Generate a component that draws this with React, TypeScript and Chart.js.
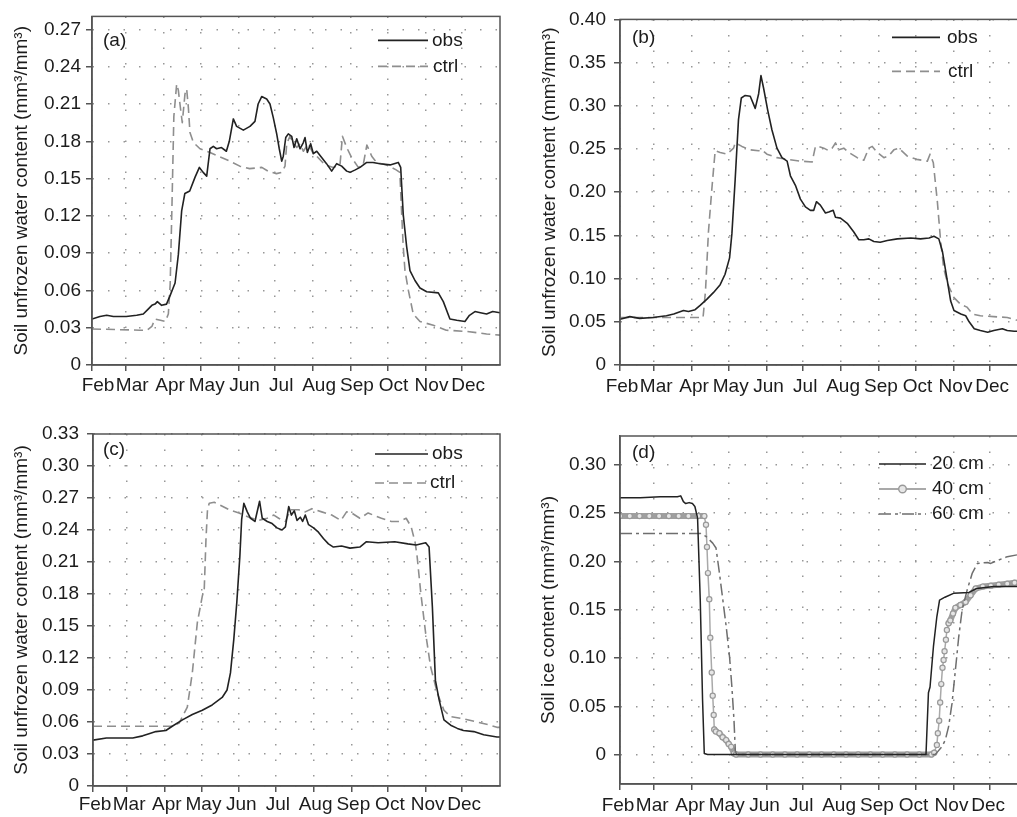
import React, { useEffect, useRef } from 'react';
import { Chart, registerables } from 'chart.js';

Chart.register(...registerables);

// ---------- shared axis data ----------
const MONTHS = ['Feb', 'Mar', 'Apr', 'May', 'Jun', 'Jul', 'Aug', 'Sep', 'Oct', 'Nov', 'Dec'];
const MONTH_DAYS = [0, 28, 59, 89, 120, 150, 181, 212, 242, 273, 303];
const X_MAX = 334;

const Y_TICKS_A = [0, 0.03, 0.06, 0.09, 0.12, 0.15, 0.18, 0.21, 0.24, 0.27];
const Y_TICKS_B = [0, 0.05, 0.1, 0.15, 0.2, 0.25, 0.3, 0.35, 0.4];
const Y_TICKS_C = [0, 0.03, 0.06, 0.09, 0.12, 0.15, 0.18, 0.21, 0.24, 0.27, 0.3, 0.33];
const Y_TICKS_D = [0, 0.05, 0.1, 0.15, 0.2, 0.25, 0.3];

// ---------- panel (a) ----------
const A_OBS_DAY = [0, 6.5, 12, 17.5, 28, 36.6, 42, 46, 49, 51.6, 53.5, 57, 61, 64, 66, 68, 70.7, 73.4, 76, 80, 84.3, 87.9, 91, 93.9, 96.6, 99.3, 102, 106, 110, 112.4, 115.7, 118.4, 123.9, 129.3, 133.4, 136, 138.9, 143, 145.7, 148.4, 151.2, 153.3, 155.3, 156.6, 158.6, 160.7, 163.5, 165.4, 167.6, 170.3, 173, 174.4, 176.3, 179, 181.2, 184, 188, 192, 196.2, 200.3, 204.4, 208.5, 211.2, 215.5, 219.4, 224.9, 230, 235.8, 244, 250.7, 252.7, 254.8, 257.6, 260.3, 264.4, 268.5, 274, 283.5, 287.6, 293, 298.6, 305.3, 309, 313.5, 318, 323, 328, 334];
const A_OBS_VAL = [0.037, 0.039, 0.04, 0.039, 0.039, 0.04, 0.041, 0.045, 0.048, 0.049, 0.051, 0.048, 0.049, 0.056, 0.061, 0.066, 0.089, 0.124, 0.138, 0.14, 0.151, 0.159, 0.155, 0.152, 0.174, 0.176, 0.174, 0.175, 0.172, 0.18, 0.198, 0.192, 0.189, 0.192, 0.196, 0.21, 0.216, 0.214, 0.21, 0.199, 0.186, 0.174, 0.164, 0.168, 0.183, 0.186, 0.184, 0.175, 0.182, 0.174, 0.179, 0.183, 0.171, 0.178, 0.17, 0.172, 0.167, 0.162, 0.156, 0.162, 0.16, 0.156, 0.155, 0.157, 0.159, 0.163, 0.163, 0.162, 0.161, 0.163, 0.159, 0.121, 0.095, 0.076, 0.068, 0.062, 0.059, 0.058, 0.051, 0.037, 0.036, 0.035, 0.04, 0.043, 0.042, 0.041, 0.043, 0.042];
const A_CTRL_DAY = [0, 20, 39, 45, 49, 51.6, 56, 60, 62.5, 64, 65.5, 67, 69.3, 70.7, 72, 73.9, 76.1, 77.5, 78.9, 80.2, 83, 88.4, 96.6, 103.4, 113, 121, 129, 139, 144, 151, 155.3, 158, 159.4, 162, 164.8, 167.6, 170.3, 173, 177, 181.2, 184, 190.7, 197.5, 203, 205, 208.5, 212.5, 218, 222, 225, 229, 233, 241, 249, 252, 253.5, 254.8, 256.2, 259, 263, 268.5, 279.4, 290, 306.7, 323, 334];
const A_CTRL_VAL = [0.029, 0.0285, 0.028, 0.028, 0.031, 0.037, 0.036, 0.035, 0.041, 0.065, 0.13, 0.2, 0.226, 0.221, 0.21, 0.195, 0.218, 0.222, 0.207, 0.187, 0.179, 0.174, 0.171, 0.168, 0.164, 0.16, 0.158, 0.159, 0.156, 0.154, 0.155, 0.16, 0.178, 0.184, 0.179, 0.175, 0.178, 0.172, 0.178, 0.17, 0.168, 0.161, 0.159, 0.161, 0.184, 0.175, 0.167, 0.159, 0.161, 0.177, 0.168, 0.163, 0.161, 0.157, 0.155, 0.122, 0.095, 0.076, 0.06, 0.041, 0.035, 0.032, 0.028, 0.027, 0.025, 0.024];

// ---------- panel (b) ----------
const B_OBS_DAY = [0, 8, 16, 27, 38, 44, 48, 52, 56, 61.5, 65.6, 71, 76.6, 82, 86, 89.7, 91.6, 94.3, 97, 99.3, 102.5, 106.6, 110.7, 113.5, 115.4, 117.6, 120.9, 124.4, 128.5, 132.6, 136.8, 139.5, 143.6, 147.7, 151.8, 155.9, 158.6, 160.8, 164, 168.2, 170.9, 174.5, 176.4, 180.5, 186, 191.4, 195.5, 199.6, 203.7, 207.8, 213, 218.8, 227, 238, 246, 253, 257, 261, 264, 268, 270.7, 273.4, 279, 283, 285.8, 290, 295, 301, 306, 313, 317, 322.7, 334];
const B_OBS_VAL = [0.053, 0.056, 0.054, 0.055, 0.057, 0.059, 0.061, 0.063, 0.062, 0.064, 0.069, 0.076, 0.084, 0.093, 0.105, 0.124, 0.152, 0.215, 0.284, 0.309, 0.312, 0.311, 0.297, 0.314, 0.335, 0.32, 0.295, 0.272, 0.251, 0.24, 0.236, 0.219, 0.208, 0.192, 0.183, 0.179, 0.179, 0.189, 0.185, 0.176, 0.177, 0.179, 0.171, 0.17, 0.164, 0.154, 0.145, 0.145, 0.146, 0.143, 0.142, 0.144, 0.146, 0.147, 0.146, 0.147, 0.149, 0.146, 0.131, 0.097, 0.074, 0.063, 0.059, 0.057, 0.05, 0.042, 0.04, 0.038, 0.04, 0.042, 0.04, 0.039, 0.039];
const B_CTRL_DAY = [0, 30, 68, 70, 72.4, 75.2, 77.9, 82, 87.5, 93, 94.3, 99.8, 106.6, 113.5, 116.2, 120.3, 128.5, 136.8, 147.7, 157.3, 160, 162.7, 166.8, 170.9, 173.7, 176.4, 179.1, 183.2, 187.3, 194.2, 199.6, 203.7, 206.5, 210.6, 216, 220, 224.2, 228.3, 235, 243, 251.6, 253.8, 256.5, 259.8, 262.5, 265, 268.5, 273.4, 279, 284, 288.5, 295, 306, 317, 324, 334];
const B_CTRL_VAL = [0.055, 0.055, 0.055, 0.086, 0.154, 0.204, 0.248, 0.246, 0.244, 0.251, 0.257, 0.253, 0.249, 0.248, 0.249, 0.244, 0.24, 0.238, 0.236, 0.235, 0.253, 0.253, 0.251, 0.248, 0.251, 0.257, 0.249, 0.251, 0.246, 0.24, 0.237, 0.251, 0.253, 0.246, 0.24, 0.242, 0.249, 0.251, 0.242, 0.238, 0.236, 0.244, 0.234, 0.189, 0.143, 0.112, 0.093, 0.078, 0.07, 0.067, 0.059, 0.057, 0.056, 0.055, 0.052, 0.051];

// ---------- panel (c) ----------
const C_OBS_DAY = [0, 11, 21.7, 32.6, 40.8, 46, 51.6, 59.8, 65, 73.4, 81.5, 89.7, 97.8, 106, 110, 112.8, 115.5, 118, 120.5, 122, 123.8, 126.6, 129.3, 132.9, 136.7, 138.9, 143, 147, 151, 155.1, 157.9, 160.6, 162.8, 165.2, 167.4, 170.1, 172, 174.2, 176.9, 181, 185, 189.1, 193.2, 197.3, 204, 210.9, 219, 224.4, 234, 247.6, 258.4, 265.2, 273, 275.8, 278.5, 281, 284, 288, 293.5, 299, 304, 312.5, 320.6, 331.5, 334];
const C_OBS_VAL = [0.043, 0.045, 0.045, 0.045, 0.047, 0.049, 0.051, 0.052, 0.056, 0.062, 0.067, 0.071, 0.076, 0.083, 0.09, 0.106, 0.137, 0.172, 0.215, 0.25, 0.265, 0.257, 0.251, 0.248, 0.267, 0.251, 0.248, 0.246, 0.242, 0.24, 0.243, 0.262, 0.254, 0.258, 0.249, 0.252, 0.248, 0.254, 0.245, 0.242, 0.238, 0.232, 0.227, 0.224, 0.225, 0.223, 0.224, 0.229, 0.228, 0.229, 0.227, 0.226, 0.228, 0.224, 0.168, 0.099, 0.081, 0.062, 0.057, 0.054, 0.052, 0.051, 0.048, 0.046, 0.046];
const C_CTRL_DAY = [0, 32.6, 65, 70.7, 77.4, 81.5, 85.6, 89.7, 91.3, 92.7, 94, 95.4, 99.5, 104.9, 111.7, 119.8, 128, 136.1, 142.9, 148.4, 152.4, 157.9, 162, 168.7, 174.2, 179.6, 187.7, 195.9, 203.5, 208.1, 212.2, 219, 225.8, 229.9, 236.7, 244.8, 251.6, 257, 261.1, 264.4, 266, 269, 273, 277, 282.6, 288, 293.5, 304, 315, 326, 331.5, 334];
const C_CTRL_VAL = [0.056, 0.056, 0.056, 0.059, 0.074, 0.106, 0.153, 0.178, 0.185, 0.231, 0.26, 0.265, 0.266, 0.263, 0.259, 0.256, 0.252, 0.249, 0.251, 0.254, 0.251, 0.248, 0.259, 0.259, 0.257, 0.26, 0.257, 0.254, 0.249, 0.257, 0.256, 0.251, 0.256, 0.254, 0.251, 0.248, 0.248, 0.251, 0.243, 0.228, 0.215, 0.181, 0.143, 0.112, 0.087, 0.071, 0.065, 0.063, 0.06, 0.057, 0.055, 0.055];

// ---------- panel (d) ----------
const D_20_DAY = [0, 16.6, 33, 47, 49.7, 51.9, 53.8, 56.6, 59.3, 61.3, 62.6, 63.5, 65.7, 67.6, 69, 71.7, 150, 250.5, 252.5, 253.8, 256.6, 259.4, 261.6, 266, 273, 285.6, 292, 306, 320, 334];
const D_20_VAL = [0.266, 0.266, 0.267, 0.267, 0.268, 0.262, 0.26, 0.261, 0.26, 0.257, 0.25, 0.245, 0.16, 0.056, 0.001, 0, 0, 0, 0.064, 0.07, 0.112, 0.143, 0.16, 0.163, 0.167, 0.168, 0.172, 0.174, 0.174, 0.174];
const D_40_DAY = [0, 8, 16, 24, 32, 40, 48, 56, 64, 69, 70.4, 71.2, 72, 73.1, 73.9, 75.1, 75.9, 76.7, 77.2, 78.5, 81.4, 84, 86.9, 89, 91, 93.3, 95, 105, 115, 125, 135, 145, 155, 165, 175, 185, 195, 205, 215, 225, 235, 245, 255, 257.2, 259.4, 260.2, 261.3, 262.1, 263, 264, 264.9, 265.7, 266.8, 267.6, 269, 270.4, 272.6, 274.6, 278.7, 282.9, 287, 291.2, 297, 303.6, 310, 317, 323, 328.4, 334];
const D_40_VAL = [0.247, 0.247, 0.247, 0.247, 0.247, 0.247, 0.247, 0.247, 0.247, 0.247, 0.238, 0.215, 0.188, 0.161, 0.121, 0.085, 0.061, 0.041, 0.026, 0.024, 0.022, 0.018, 0.015, 0.011, 0.008, 0.001, 0, 0, 0, 0, 0, 0, 0, 0, 0, 0, 0, 0, 0, 0, 0, 0, 0, 0.002, 0.01, 0.022, 0.035, 0.054, 0.073, 0.09, 0.098, 0.107, 0.119, 0.129, 0.136, 0.139, 0.146, 0.152, 0.155, 0.158, 0.165, 0.172, 0.174, 0.175, 0.176, 0.177, 0.178, 0.178, 0.179];
const D_60_DAY = [0, 30, 63.5, 66, 70.4, 75.9, 78.6, 81.4, 84.2, 86.9, 89.7, 91.6, 93.3, 94.4, 95.5, 180, 258, 259.4, 263.5, 266.3, 269, 271.8, 274.6, 277.3, 280.1, 284.3, 288.4, 292.6, 300.9, 303.5, 309, 317, 325.6, 334];
const D_60_VAL = [0.229, 0.229, 0.229, 0.229, 0.226, 0.219, 0.214, 0.188, 0.16, 0.133, 0.101, 0.07, 0.036, 0.004, 0, 0, 0, 0.002, 0.008, 0.015, 0.029, 0.053, 0.088, 0.122, 0.15, 0.171, 0.188, 0.198, 0.199, 0.198, 0.201, 0.205, 0.207, 0.207];

// ---------- styling ----------
const FONT_FAMILY = "'Liberation Sans', Arial, Helvetica, sans-serif";
const FONT_SIZE = 19;
const TEXT = '#1c1c1c';
const AXIS = '#555555';

const pts = (d: number[], v: number[]) => d.map((x, i) => ({ x, y: v[i] }));

const obsStyle = { borderColor: '#222222', borderWidth: 1.6, pointRadius: 0, borderDash: [] as number[] };
const ctrlStyle = { borderColor: '#8e8e8e', borderWidth: 1.6, pointRadius: 0, borderDash: [9, 5] };

const decorPlugin = {
  id: 'decor',
  afterDraw(chart: any, _args: any, opts: any) {
    const { ctx, chartArea: a } = chart;
    ctx.save();
    ctx.setLineDash([]);
    ctx.strokeStyle = AXIS;
    ctx.lineWidth = 1.5;
    ctx.strokeRect(a.left, a.top, a.right - a.left, a.bottom - a.top);
    ctx.font = `${FONT_SIZE}px ${FONT_FAMILY}`;
    ctx.fillStyle = TEXT;
    ctx.textBaseline = 'middle';
    ctx.textAlign = 'left';
    ctx.fillText(opts.label, a.left + opts.labelDx, a.top + opts.labelDy);
    (opts.items || []).forEach((it: any) => {
      const ds = chart.data.datasets[it.ds];
      const y = a.top + it.dy;
      const x0 = a.right - it.dx;
      const x1 = x0 + it.len;
      ctx.beginPath();
      ctx.setLineDash(ds.borderDash || []);
      ctx.strokeStyle = ds.borderColor;
      ctx.lineWidth = ds.legendWidth || ds.borderWidth;
      ctx.moveTo(x0, y);
      ctx.lineTo(x1, y);
      ctx.stroke();
      ctx.setLineDash([]);
      if (it.marker) {
        ctx.beginPath();
        ctx.arc((x0 + x1) / 2, y, 3.8, 0, Math.PI * 2);
        ctx.fillStyle = ds.pointBackgroundColor;
        ctx.fill();
        ctx.strokeStyle = ds.pointBorderColor;
        ctx.lineWidth = 1.4;
        ctx.stroke();
      }
      ctx.fillStyle = TEXT;
      ctx.fillText(it.text, x1 + it.gap, y);
    });
    ctx.restore();
  },
};

type PanelProps = {
  left: number; top: number; width: number; height: number;
  area: { l: number; t: number; r: number; b: number };
  yMin: number; yMax: number; yTicks: number[]; yTitle: string; titlePad: number;
  xLabelOffset: number; xPad: number; yPad: number;
  makeDatasets: () => any[];
  decor: any;
};

function Panel(p: PanelProps) {
  const ref = useRef<HTMLCanvasElement>(null);
  useEffect(() => {
    const font = { family: FONT_FAMILY, size: FONT_SIZE };
    const grid = {
      color: '#979797', lineWidth: 1.5, drawTicks: true, tickLength: 6,
      tickColor: AXIS, tickWidth: 1.5, tickBorderDash: [] as number[],
    };
    const border = { display: true, color: AXIS, width: 1.5, dash: [1.5, 14] };
    const chart = new Chart(ref.current as HTMLCanvasElement, {
      type: 'line',
      data: { datasets: p.makeDatasets() },
      options: {
        responsive: false,
        animation: false,
        events: [],
        layout: { padding: { left: 0, top: p.area.t, right: p.width - p.area.r, bottom: 0 } },
        elements: { line: { tension: 0, borderJoinStyle: 'round' } },
        scales: {
          x: {
            type: 'linear', min: 0, max: X_MAX,
            afterFit: (s: any) => { s.height = p.height - p.area.b; },
            afterBuildTicks: (s: any) => { s.ticks = MONTH_DAYS.map((v) => ({ value: v })); },
            ticks: {
              callback: (_v: any, i: number) => MONTHS[i],
              autoSkip: false, maxRotation: 0, minRotation: 0,
              labelOffset: p.xLabelOffset, padding: p.xPad, font, color: TEXT,
            },
            grid, border,
          },
          y: {
            type: 'linear', min: p.yMin, max: p.yMax,
            afterFit: (s: any) => { s.width = p.area.l; },
            afterBuildTicks: (s: any) => { s.ticks = p.yTicks.map((v) => ({ value: v })); },
            ticks: {
              callback: (v: any) => (Number(v) === 0 ? '0' : Number(v).toFixed(2)),
              padding: p.yPad, font, color: TEXT,
            },
            title: { display: true, text: p.yTitle, font, color: TEXT, padding: { top: p.titlePad, bottom: 0 } },
            grid, border,
          },
        },
        plugins: {
          legend: { display: false },
          tooltip: { enabled: false },
          decor: p.decor,
        } as any,
      } as any,
      plugins: [decorPlugin],
    });
    return () => chart.destroy();
  }, []);
  return (
    <canvas
      ref={ref}
      width={p.width}
      height={p.height}
      style={{ position: 'absolute', left: p.left, top: p.top, width: p.width, height: p.height }}
    />
  );
}

const WATER_TITLE = 'Soil unfrozen water content (mm³/mm³)';
const ICE_TITLE = 'Soil ice content (mm³/mm³)';

const obsCtrl = (od: number[], ov: number[], cd: number[], cv: number[]) => () => [
  { label: 'obs', data: pts(od, ov), ...obsStyle },
  { label: 'ctrl', data: pts(cd, cv), ...ctrlStyle },
];

const flat40 = (c: any) => {
  const dd = D_40_DAY[c.p1DataIndex] - D_40_DAY[c.p0DataIndex];
  const dy = Math.abs(c.p1.y - c.p0.y);
  return dy / dd < 3.5;
};

const iceDatasets = () => [
  { label: '20 cm', data: pts(D_20_DAY, D_20_VAL), borderColor: '#222222', borderWidth: 1.5, pointRadius: 0, borderDash: [] },
  { label: '60 cm', data: pts(D_60_DAY, D_60_VAL), borderColor: '#6e6e6e', borderWidth: 1.5, pointRadius: 0, borderDash: [12, 4, 3, 4] },
  {
    label: '40 cm', data: pts(D_40_DAY, D_40_VAL),
    borderColor: '#a9a9a9', borderWidth: 1.5, legendWidth: 1.8, borderDash: [],
    borderCapStyle: 'round',
    pointRadius: 2.6, pointBorderWidth: 1.2, pointBorderColor: '#999999', pointBackgroundColor: '#e6e6e6',
    segment: {
      borderWidth: (c: any) => (flat40(c) ? 6 : 1.5),
      borderColor: (c: any) => (flat40(c) ? '#9f9f9f' : '#a9a9a9'),
    },
  },
];

export default function App() {
  return (
    <div style={{ position: 'fixed', left: 0, top: 0, width: 1017, height: 817, overflow: 'hidden', background: '#ffffff' }}>
      <Panel
        left={0} top={0} width={510} height={407}
        area={{ l: 92, t: 15, r: 500, b: 365 }}
        yMin={0} yMax={0.2805} yTicks={Y_TICKS_A} yTitle={WATER_TITLE} titlePad={10.5}
        xLabelOffset={6} xPad={3} yPad={5}
        makeDatasets={obsCtrl(A_OBS_DAY, A_OBS_VAL, A_CTRL_DAY, A_CTRL_VAL)}
        decor={{
          label: '(a)', labelDx: 11, labelDy: 24,
          items: [
            { ds: 0, text: 'obs', dx: 122, len: 50, gap: 4, dy: 24 },
            { ds: 1, text: 'ctrl', dx: 122, len: 50, gap: 5, dy: 50 },
          ],
        }}
      />
      <Panel
        left={510} top={0} width={530} height={407}
        area={{ l: 110, t: 15, r: 518, b: 365 }}
        yMin={0} yMax={0.4} yTicks={Y_TICKS_B} yTitle={WATER_TITLE} titlePad={28.5}
        xLabelOffset={2} xPad={4} yPad={8}
        makeDatasets={obsCtrl(B_OBS_DAY, B_OBS_VAL, B_CTRL_DAY, B_CTRL_VAL)}
        decor={{
          label: '(b)', labelDx: 12, labelDy: 18,
          items: [
            { ds: 0, text: 'obs', dx: 136, len: 48, gap: 7, dy: 18 },
            { ds: 1, text: 'ctrl', dx: 136, len: 48, gap: 8, dy: 52 },
          ],
        }}
      />
      <Panel
        left={0} top={407} width={510} height={410}
        area={{ l: 93, t: 27, r: 500, b: 379 }}
        yMin={0} yMax={0.33} yTicks={Y_TICKS_C} yTitle={WATER_TITLE} titlePad={10.5}
        xLabelOffset={2} xPad={1} yPad={8}
        makeDatasets={obsCtrl(C_OBS_DAY, C_OBS_VAL, C_CTRL_DAY, C_CTRL_VAL)}
        decor={{
          label: '(c)', labelDx: 10, labelDy: 16,
          items: [
            { ds: 0, text: 'obs', dx: 125, len: 53, gap: 4, dy: 20 },
            { ds: 1, text: 'ctrl', dx: 125, len: 53, gap: 2, dy: 49 },
          ],
        }}
      />
      <Panel
        left={510} top={407} width={530} height={410}
        area={{ l: 110, t: 29, r: 518, b: 377 }}
        yMin={-0.0305} yMax={0.33} yTicks={Y_TICKS_D} yTitle={ICE_TITLE} titlePad={27.5}
        xLabelOffset={-2} xPad={4} yPad={8}
        makeDatasets={iceDatasets}
        decor={{
          label: '(d)', labelDx: 12, labelDy: 17,
          items: [
            { ds: 0, text: '20 cm', dx: 149, len: 47, gap: 6, dy: 28 },
            { ds: 2, text: '40 cm', dx: 149, len: 47, gap: 6, dy: 53, marker: true },
            { ds: 1, text: '60 cm', dx: 149, len: 47, gap: 6, dy: 78 },
          ],
        }}
      />
    </div>
  );
}
